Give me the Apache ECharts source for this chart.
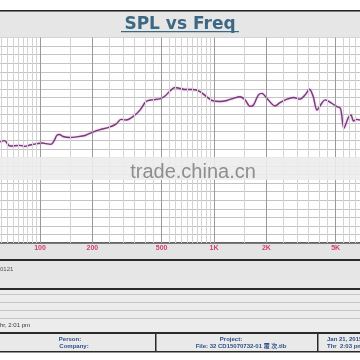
<!DOCTYPE html>
<html><head><meta charset="utf-8">
<script src="https://cdn.jsdelivr.net/npm/echarts@6/dist/echarts.min.js"></script>
<style>html,body{margin:0;padding:0;background:#fff}#c{width:360px;height:360px}</style>
</head><body><div id="c"></div>
<script>
// Frequency (Hz) and SPL (dB)
var freqHz = [58.9,62.5,67.2,76.7,82.0,87.6,96.1,102.7,108.3,115.7,120.4,125.2,129.4,135.6,148.7,163.2,181.4,201.7,221.2,245.9,273.4,292.1,312.1,342.3,375.5,406.7,440.4,489.4,522.9,558.6,597.0,629.3,681.3,757.3,830.7,907.8,973.9,1082.6,1187.6,1302.5,1411,1507.6,1610.6,1686.6,1797.5,1887.8,2016.8,2242.5,2395.6,2627.6,2856,3121,3334,3539,3721,3909,4159,4345,4747,5093,5333,5586,5914,6130,6334,6609,6904];
var splDb = [79.5,79.9,78.3,78.5,78.2,78.6,79.0,79.2,79.0,78.8,79.8,81.5,81.7,81.1,80.8,81.0,81.4,82.4,83.1,83.7,84.7,86.1,85.9,86.9,88.8,91.3,91.8,92.1,92.9,94.4,95.4,95.2,94.8,94.8,94.2,92.7,91.6,91.3,91.6,92.3,92.7,91.8,89.9,90.3,93.2,93.7,92.2,90.0,91.0,92.0,92.5,92.0,93.2,94.9,92.7,88.8,90.8,91.8,90.8,89.8,89.3,83.5,86.6,87.4,85.6,86.1,85.9];
// labelled frequency ticks
var tickFreqs = [100,200,500,1000,2000,5000];
var tickLabels = ['100','200','500','1K','2K','5K'];
// minor grid frequencies
var minorFreqs = [60,65,70,75,80,85,90,95,150,250,300,350,400,450,550,600,650,700,750,800,850,900,950,1500,2500,3000,3500,4000,4500,5500,6000,6500];

var xMin = 58.9, xMax = 6904;
var curve = freqHz.map(function(f,i){return [f, splDb[i]];});

var gridMarks = [];
minorFreqs.forEach(function(f){
  gridMarks.push({xAxis:f, lineStyle:{color:'#d2d2d2',width:1,type:'solid'}, label:{show:false}});
});
tickFreqs.forEach(function(f,i){
  gridMarks.push({xAxis:f, lineStyle:{color:'#9a9a9a',width:1,type:'solid'},
    label:{show:true, formatter:tickLabels[i], position:'start', distance:2,
      color:'#d0406e', fontSize:7, fontWeight:'bold', fontFamily:'Liberation Sans'}});
});

var chart = echarts.init(document.getElementById('c'), null, {renderer:'canvas'});
var W = 360;
function rect(x,y,w,h,fill,z){return {type:'rect',shape:{x:x,y:y,width:w,height:h},style:{fill:fill},z:z||0,silent:true};}
function txt(x,y,t,opt){opt=opt||{};return {type:'text',x:x,y:y,z:opt.z||5,silent:true,style:{text:t,fill:opt.color||'#333',font:opt.font||'6px "Liberation Sans"',textAlign:opt.align||'left',textVerticalAlign:'middle'}};}

chart.setOption({
  animation:false,
  backgroundColor:'#ffffff',
  grid:{left:0,right:0,top:37.5,bottom:117,containLabel:false,show:true,backgroundColor:'#ffffff',borderWidth:0},
  xAxis:{type:'log',logBase:10,min:xMin,max:xMax,
    axisLine:{show:true,lineStyle:{color:'#333',width:1.5}},
    axisTick:{show:false},axisLabel:{show:false},splitLine:{show:false},minorSplitLine:{show:false}},
  yAxis:{type:'value',min:50,max:110,interval:2.5,
    axisLine:{show:false},axisTick:{show:false},axisLabel:{show:false},
    splitLine:{show:true,lineStyle:{color:'#c4c4c4',width:1}}},
  series:[
    {type:'line',data:curve,z:1,symbol:'none',lineStyle:{opacity:0},silent:true,
     markLine:{silent:true,symbol:['none','none'],animation:false,data:gridMarks}},
    {type:'line',data:curve,z:3,symbol:'none',smooth:0.3,
     lineStyle:{color:'#7a3a7a',width:1.4,shadowColor:'rgba(210,130,210,0.8)',shadowBlur:2}}
  ],
  graphic:[
    rect(0,10,W,1.8,'#222',1),
    rect(0,11.8,W,25.7,'#e6e6e6',1),
    {type:'text',x:180,y:24.5,z:5,silent:true,style:{text:'SPL vs Freq',fill:'#3d6884',font:'bold 17px "DejaVu Sans"',textAlign:'center',textVerticalAlign:'middle'}},
    rect(121,31,118,1.3,'#3d6884',5),
    rect(0,243.8,W,15.2,'#e4e4e4',1),
    rect(0,259,W,2,'#2a2a2a',1),
    rect(0,261,W,27,'#e6e6e6',1),
    txt(0,269,'0121',{color:'#555'}),
    rect(0,288,W,2,'#2a2a2a',1),
    rect(0,290,W,42,'#ececec',1),
    rect(0,294,W,1,'#c6c6c6',2),
    rect(0,302,W,1,'#c6c6c6',2),
    rect(0,310,W,1,'#c6c6c6',2),
    rect(0,318,W,1,'#c6c6c6',2),
    txt(0,325,'hr, 2:01 pm',{color:'#333'}),
    rect(0,332,W,2,'#2a2a2a',1),
    rect(0,334,W,17,'#e9e9e9',1),
    rect(155,334,1.5,17,'#2a2a2a',2),
    rect(317,334,1.5,17,'#2a2a2a',2),
    rect(0,351,W,1.5,'#2a2a2a',1),
    txt(70,339,'Person:',{color:'#2f4f8a',align:'center',font:'bold 6px "Liberation Sans"'}),
    txt(74,346,'Company:',{color:'#2f4f8a',align:'center',font:'bold 6px "Liberation Sans"'}),
    txt(231,339,'Project:',{color:'#2f4f8a',align:'center',font:'bold 6px "Liberation Sans"'}),
    txt(241,346,'File: 32 CD15070732-01 覆 次.tlb',{color:'#2f4f8a',align:'center',font:'bold 6px "Liberation Sans", "Noto Sans CJK SC"'}),
    txt(327,339,'Jan 21, 2015',{color:'#2f4f8a',font:'bold 6px "Liberation Sans"'}),
    txt(327,346,'Thr  2:03 pm',{color:'#2f4f8a',font:'bold 6px "Liberation Sans"'}),
    rect(0,157,W,23,'rgba(236,236,236,0.9)',50),
    {type:'text',x:193,y:172,z:60,silent:true,style:{text:'trade.china.cn',fill:'rgba(110,110,110,0.75)',font:'20px "Liberation Sans"',textAlign:'center',textVerticalAlign:'middle'}}
  ]
});
</script></body></html>
